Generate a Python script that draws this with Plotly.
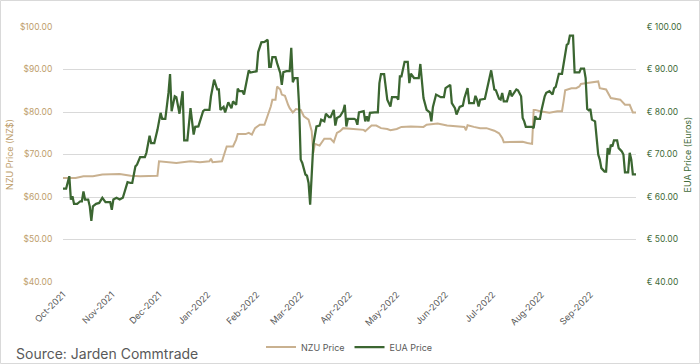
import plotly.graph_objects as go

# ---------------- data ----------------
nzu_dates = [
    "2021-10-01", "2021-10-05", "2021-10-09", "2021-10-14", "2021-10-20", "2021-10-26",
    "2021-11-06", "2021-11-10", "2021-11-13", "2021-11-19", "2021-11-25", "2021-11-30",
    "2021-12-01", "2021-12-06", "2021-12-12", "2021-12-21", "2021-12-27",
    "2022-01-02", "2022-01-03", "2022-01-04", "2022-01-10", "2022-01-11", "2022-01-13",
    "2022-01-17", "2022-01-19", "2022-01-20", "2022-01-25", "2022-01-27", "2022-01-29",
    "2022-01-31", "2022-02-03", "2022-02-06", "2022-02-08", "2022-02-10", "2022-02-11",
    "2022-02-13", "2022-02-14", "2022-02-16", "2022-02-17", "2022-02-19", "2022-02-21",
    "2022-02-22", "2022-02-24", "2022-02-26", "2022-03-01", "2022-03-03", "2022-03-06",
    "2022-03-08", "2022-03-09", "2022-03-10", "2022-03-13", "2022-03-16", "2022-03-20",
    "2022-03-22", "2022-03-24", "2022-03-26", "2022-03-28", "2022-04-02", "2022-04-10",
    "2022-04-11", "2022-04-13", "2022-04-15", "2022-04-18", "2022-04-21", "2022-04-25",
    "2022-04-27", "2022-05-01", "2022-05-04", "2022-05-10", "2022-05-16", "2022-05-18",
    "2022-05-20", "2022-05-27", "2022-06-02", "2022-06-08", "2022-06-13", "2022-06-14",
    "2022-06-15", "2022-06-19", "2022-06-23", "2022-06-27", "2022-07-02", "2022-07-05",
    "2022-07-07", "2022-07-08", "2022-07-12", "2022-07-16", "2022-07-20", "2022-07-23",
    "2022-07-26", "2022-07-27", "2022-07-28", "2022-07-31", "2022-08-06", "2022-08-11",
    "2022-08-14", "2022-08-15", "2022-08-16", "2022-08-20", "2022-08-23", "2022-08-25",
    "2022-08-26", "2022-08-30", "2022-09-06", "2022-09-07", "2022-09-11", "2022-09-14",
    "2022-09-20", "2022-09-23", "2022-09-26", "2022-09-28", "2022-09-30",
]
nzu_price = [
    64.5, 64.5, 64.5, 64.9, 64.9, 65.3,
    65.4, 65.2, 65.0, 64.9, 64.9, 65.0,
    68.4, 68.2, 68.0, 68.4, 68.2,
    68.4, 69.0, 68.2, 68.4, 69.6, 71.9,
    71.9, 73.5, 74.8, 74.8, 75.1, 74.7,
    76.2, 77.0, 77.0, 79.0, 81.3, 82.9,
    82.9, 86.0, 85.3, 84.1, 83.8, 81.7,
    80.9, 79.9, 80.7, 80.5, 79.0, 78.2,
    75.5, 70.4, 72.5, 72.1, 73.7, 73.7,
    72.9, 75.1, 75.5, 76.2, 76.0, 75.8,
    75.5, 76.2, 76.8, 76.8, 76.2, 76.0,
    75.7, 76.0, 76.5, 76.6, 76.6, 76.5,
    77.0, 77.3, 76.8, 76.6, 76.5, 75.7,
    76.9, 76.5, 76.2, 76.2, 75.6, 75.0,
    73.9, 72.9, 72.9, 72.9, 73.0, 72.7,
    72.5, 80.5, 80.5, 80.2, 79.8, 80.2,
    80.2, 82.5, 85.1, 85.6, 85.6, 86.0,
    86.6, 86.8, 87.2, 85.6, 85.3, 83.3,
    82.9, 81.7, 81.7, 79.9, 79.9,
]

eua_dates = [
    "2021-10-01", "2021-10-03", "2021-10-05", "2021-10-06", "2021-10-07", "2021-10-08",
    "2021-10-10", "2021-10-12", "2021-10-13", "2021-10-14", "2021-10-15", "2021-10-17",
    "2021-10-18", "2021-10-19", "2021-10-20", "2021-10-22", "2021-10-24", "2021-10-26",
    "2021-10-28", "2021-10-31", "2021-11-01", "2021-11-02", "2021-11-04", "2021-11-06",
    "2021-11-08", "2021-11-09", "2021-11-11", "2021-11-13", "2021-11-14", "2021-11-16",
    "2021-11-17", "2021-11-19", "2021-11-22", "2021-11-23", "2021-11-25", "2021-11-26",
    "2021-11-28", "2021-11-30", "2021-12-02", "2021-12-03", "2021-12-05", "2021-12-07",
    "2021-12-08", "2021-12-09", "2021-12-11", "2021-12-12", "2021-12-14", "2021-12-16",
    "2021-12-17", "2021-12-19", "2021-12-21", "2021-12-23", "2021-12-24", "2021-12-26",
    "2021-12-29", "2021-12-30", "2022-01-02", "2022-01-03", "2022-01-05", "2022-01-07",
    "2022-01-08", "2022-01-09", "2022-01-11", "2022-01-12", "2022-01-13", "2022-01-14",
    "2022-01-16", "2022-01-17", "2022-01-19", "2022-01-20", "2022-01-21", "2022-01-23",
    "2022-01-24", "2022-01-26", "2022-01-27", "2022-01-28", "2022-02-01", "2022-02-02",
    "2022-02-04", "2022-02-06", "2022-02-08", "2022-02-09", "2022-02-10", "2022-02-11",
    "2022-02-13", "2022-02-14", "2022-02-16", "2022-02-17", "2022-02-18", "2022-02-20",
    "2022-02-22", "2022-02-23", "2022-02-24", "2022-02-25", "2022-02-27", "2022-02-28",
    "2022-03-01", "2022-03-02", "2022-03-04", "2022-03-05", "2022-03-06", "2022-03-07",
    "2022-03-08", "2022-03-09", "2022-03-11", "2022-03-13", "2022-03-14", "2022-03-16",
    "2022-03-17", "2022-03-19", "2022-03-20", "2022-03-22", "2022-03-23", "2022-03-24",
    "2022-03-26", "2022-03-28", "2022-03-29", "2022-03-30", "2022-03-31", "2022-04-04",
    "2022-04-05", "2022-04-06", "2022-04-07", "2022-04-10", "2022-04-11", "2022-04-12",
    "2022-04-13", "2022-04-14", "2022-04-17", "2022-04-19", "2022-04-20", "2022-04-21",
    "2022-04-23", "2022-04-25", "2022-04-27", "2022-04-28", "2022-05-01", "2022-05-02",
    "2022-05-03", "2022-05-04", "2022-05-06", "2022-05-08", "2022-05-09", "2022-05-10",
    "2022-05-12", "2022-05-15", "2022-05-16", "2022-05-18", "2022-05-20", "2022-05-22",
    "2022-05-23", "2022-05-24", "2022-05-26", "2022-05-29", "2022-05-31", "2022-06-01",
    "2022-06-04", "2022-06-05", "2022-06-07", "2022-06-08", "2022-06-10", "2022-06-12",
    "2022-06-13", "2022-06-15", "2022-06-16", "2022-06-19", "2022-06-20", "2022-06-21",
    "2022-06-22", "2022-06-23", "2022-06-26", "2022-06-28", "2022-06-29", "2022-06-30",
    "2022-07-02", "2022-07-03", "2022-07-05", "2022-07-06", "2022-07-07", "2022-07-08",
    "2022-07-10", "2022-07-12", "2022-07-13", "2022-07-15", "2022-07-16", "2022-07-17",
    "2022-07-19", "2022-07-20", "2022-07-21", "2022-07-22", "2022-07-26", "2022-07-27",
    "2022-07-28", "2022-07-29", "2022-07-31", "2022-08-01", "2022-08-03", "2022-08-04",
    "2022-08-06", "2022-08-08", "2022-08-09", "2022-08-10", "2022-08-11", "2022-08-12",
    "2022-08-14", "2022-08-15", "2022-08-17", "2022-08-18", "2022-08-19", "2022-08-21",
    "2022-08-22", "2022-08-25", "2022-08-26", "2022-08-28", "2022-08-29", "2022-08-30",
    "2022-08-31", "2022-09-01", "2022-09-02", "2022-09-04", "2022-09-05", "2022-09-06",
    "2022-09-07", "2022-09-08", "2022-09-10", "2022-09-11", "2022-09-12", "2022-09-13",
    "2022-09-14", "2022-09-15", "2022-09-16", "2022-09-18", "2022-09-19", "2022-09-21",
    "2022-09-22", "2022-09-23", "2022-09-25", "2022-09-26", "2022-09-27", "2022-09-28",
    "2022-09-30",
]
eua_price = [
    62.0, 62.0, 64.9, 59.4, 60.2, 58.4,
    58.4, 59.0, 59.0, 61.3, 59.4, 59.4,
    57.8, 54.4, 57.8, 58.4, 58.6, 59.8,
    58.8, 58.8, 57.0, 59.4, 59.8, 59.4,
    59.8, 61.0, 63.5, 63.3, 63.3, 67.2,
    67.6, 69.4, 69.4, 70.4, 74.4, 72.7,
    72.7, 75.8, 79.8, 78.4, 78.4, 84.5,
    88.9, 80.2, 83.7, 83.5, 79.6, 84.9,
    73.3, 73.3, 80.9, 74.7, 76.5, 76.6,
    80.2, 80.5, 80.5, 83.7, 87.6, 85.3,
    85.3, 80.5, 81.2, 79.9, 80.9, 82.3,
    80.9, 82.5, 81.7, 85.5, 84.9, 84.9,
    84.1, 88.0, 89.8, 89.3, 89.6, 94.1,
    96.4, 96.5, 97.0, 90.6, 90.6, 92.9,
    92.9, 91.5, 89.2, 86.4, 89.4, 89.6,
    89.6, 95.1, 87.0, 88.0, 88.0, 81.3,
    68.8, 68.0, 65.3, 65.0, 63.3, 58.2,
    66.8, 72.3, 76.6, 76.8, 78.2, 77.8,
    79.6, 78.8, 78.8, 80.5, 76.8, 78.6,
    79.0, 80.2, 81.7, 76.6, 78.4, 78.4,
    78.2, 77.0, 79.9, 80.2, 77.8, 79.0,
    77.8, 79.8, 79.9, 79.9, 86.8, 88.9,
    88.9, 82.9, 81.3, 83.5, 83.5, 82.9,
    88.4, 88.4, 91.8, 91.8, 86.8, 89.0,
    88.0, 88.0, 91.3, 83.3, 80.5, 79.9,
    77.8, 81.2, 84.1, 83.5, 83.5, 85.6,
    86.4, 82.1, 80.9, 79.4, 81.2, 81.5,
    83.3, 85.6, 82.1, 82.1, 83.8, 82.9,
    81.3, 82.9, 83.1, 86.4, 88.4, 89.8,
    85.3, 85.1, 83.1, 82.9, 84.5, 82.5,
    82.5, 85.1, 83.7, 84.9, 85.3, 85.1,
    83.7, 78.6, 77.8, 76.5, 76.5, 76.2,
    79.0, 78.4, 78.4, 80.5, 83.7, 84.5,
    84.9, 84.1, 85.6, 85.9, 87.6, 89.0,
    89.0, 91.4, 95.8, 96.1, 98.0, 98.0,
    89.3, 89.3, 90.2, 90.2, 88.0, 80.7,
    80.4, 80.7, 78.2, 77.8, 74.1, 70.0,
    68.8, 66.8, 66.0, 66.0, 71.5, 70.0,
    72.3, 71.9, 73.3, 73.3, 71.5, 70.7,
    70.0, 65.8, 65.8, 70.4, 68.8, 65.3,
    65.3,
]

series_names = ["NZU Price", "EUA Price"]
y_range = [40, 100]
y_dtick = 10
left_title = "NZU Price (NZ$)"
right_title = "EUA Price (Euros)"
source_text = "Source: Jarden Commtrade"

# ---------------- styling ----------------
W, H = 700, 364
ML, MR, MT, MB = 63, 64, 27, 82
PW, PH = W - ML - MR, H - MT - MB

TAN = "#C9B190"
TAN_TXT = "#BE9E6C"
GREEN = "#3B6631"
GREEN_TXT = "#426B39"
GREY = "#595959"
FONT = "Inter"

fig = go.Figure()
fig.add_trace(go.Scatter(
    x=nzu_dates, y=nzu_price, name=series_names[0], mode="lines",
    line=dict(color=TAN, width=2), yaxis="y",
))
fig.add_trace(go.Scatter(
    x=eua_dates, y=eua_price, name=series_names[1], mode="lines",
    line=dict(color=GREEN, width=2.25), yaxis="y2",
))

def px_x(p):
    return (p - ML) / PW

def px_y(p):
    return (H - MB - p) / PH

fig.update_layout(
    width=W, height=H,
    margin=dict(l=ML, r=MR, t=MT, b=MB, autoexpand=False),
    paper_bgcolor="white", plot_bgcolor="white",
    font=dict(family=FONT, size=9, color=GREY),
    xaxis=dict(
        type="date",
        range=[nzu_dates[0], nzu_dates[-1]],
        tick0="2021-10-01", dtick="M1", tickformat="%b-%Y",
        tickangle=-45, showgrid=False, zeroline=False, showline=False,
        ticks="outside", ticklen=3, tickcolor="rgba(0,0,0,0)",
        tickfont=dict(size=9, color=GREY),
    ),
    yaxis=dict(
        range=y_range, dtick=y_dtick, tickformat="$.2f",
        showgrid=True, gridcolor="#D9D9D9", gridwidth=1, zeroline=False,
        showline=False, ticks="outside", ticklen=8, tickcolor="rgba(0,0,0,0)",
        tickfont=dict(size=8.5, color=TAN_TXT),
        title=dict(text=left_title, font=dict(size=9, color=TAN_TXT), standoff=4),
    ),
    yaxis2=dict(
        range=y_range, dtick=y_dtick, tickformat=".2f", tickprefix="€ ",
        overlaying="y", side="right", showgrid=False, zeroline=False,
        showline=False, ticks="outside", ticklen=8, tickcolor="rgba(0,0,0,0)",
        tickfont=dict(size=8.5, color=GREEN_TXT),
        title=dict(text=right_title, font=dict(size=9, color=GREEN_TXT), standoff=4),
    ),
    legend=dict(
        orientation="h", x=0.5, xanchor="center", y=px_y(347), yanchor="middle",
        font=dict(size=9, color=GREY), itemwidth=30, bgcolor="rgba(0,0,0,0)",
    ),
    showlegend=True,
)

fig.add_annotation(
    text=source_text, xref="paper", yref="paper",
    x=px_x(14), y=px_y(353), xanchor="left", yanchor="middle",
    showarrow=False, font=dict(size=14, color=GREY, family=FONT),
)

fig.add_shape(
    type="rect", xref="paper", yref="paper",
    x0=px_x(0.5), x1=px_x(W - 0.5), y0=px_y(H - 0.5), y1=px_y(0.5),
    line=dict(color="#D9D9D9", width=1), layer="below",
)

fig.write_html(
    "out.html",
    config={"displayModeBar": False},
    post_script="document.body.style.margin='0';",
)
